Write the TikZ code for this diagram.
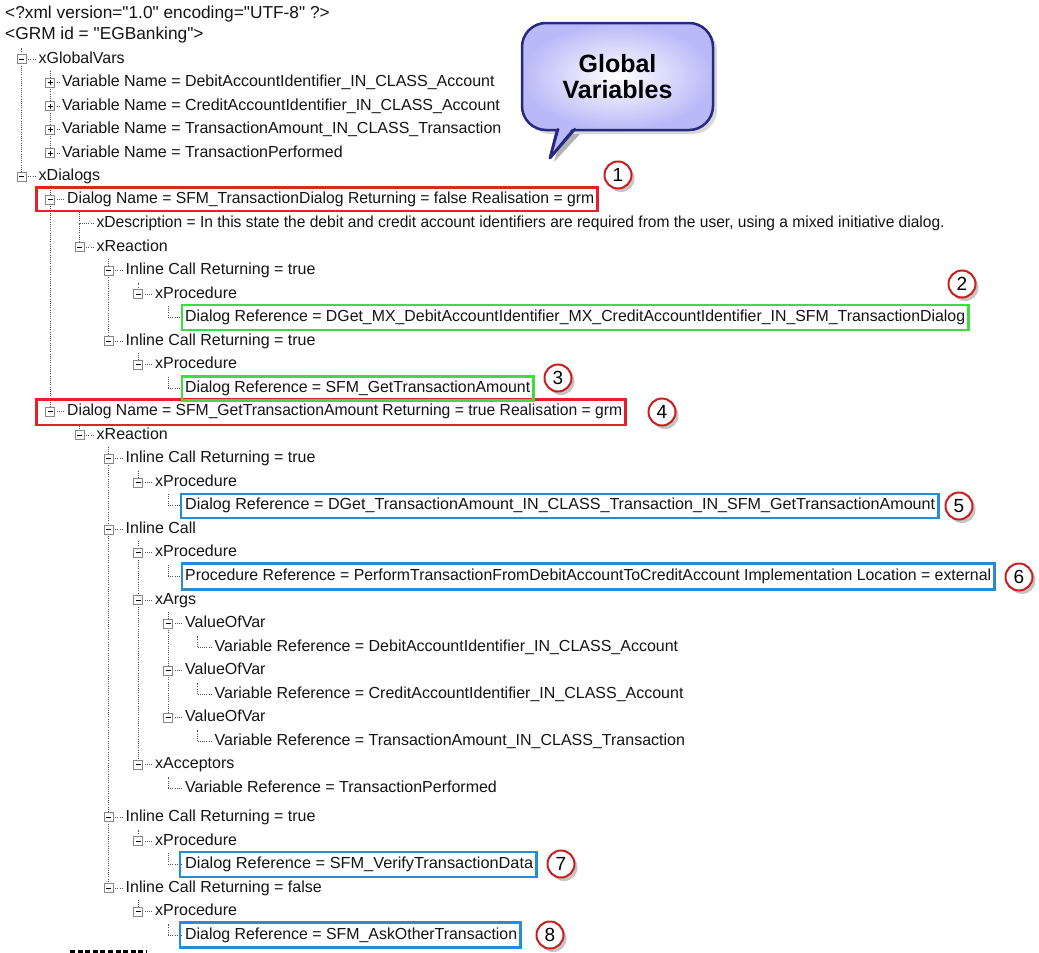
\documentclass[tikz,border=0pt]{standalone}
\usepackage{fontspec}
\setmainfont{Liberation Sans}
\usepackage{graphicx}
\usepackage{xfp}
\usetikzlibrary{shadows,calc}
\pgfdeclarelayer{bg}
\pgfdeclarelayer{paper}
\pgfsetlayers{paper,bg,main}
\definecolor{hlred}{RGB}{228,32,40}
\definecolor{hlgreen}{RGB}{60,222,60}
\definecolor{hlblue}{RGB}{40,140,210}
\definecolor{cred}{RGB}{205,30,30}
\definecolor{navy}{RGB}{40,40,130}
\definecolor{lav}{RGB}{185,185,248}
\definecolor{treec}{RGB}{80,80,80}
\definecolor{boxgray}{RGB}{135,135,135}
\definecolor{txtc}{RGB}{20,20,20}
\newcommand\dq{\XeTeXglyph\XeTeXcharglyph"22\relax}
\newsavebox\fitbox
\newcommand\fitw[2]{\sbox\fitbox{#2}\scalebox{\fpeval{#1/(\the\wd\fitbox)}}[1]{\usebox\fitbox}}
\newcommand\mrow[4]{\node[txt] (#1) at (#2+17,#3) {#4}; \node[mbox] (#1b) at (#2,#3) {};}
\newcommand\prow[4]{\node[txt] (#1) at (#2+12,#3) {#4}; \node[pbox] (#1b) at (#2,#3) {};}
\newcommand\lrow[4]{\node[txt] (#1) at (#2+17,#3) {#4}; \coordinate (#1b) at (#2,#3);}
\tikzset{
  txt/.style={anchor=west, inner sep=0pt, text height=11.5pt, text depth=3.5pt, font=\fontsize{16}{18}\selectfont, text=txtc},
  hdr/.style={txt, font=\fontsize{17.3}{19}\selectfont},
  mbox/.style={draw=boxgray, fill=white, minimum size=9pt, inner sep=0pt, line width=0.8pt,
    path picture={\draw[black, line width=0.9pt] ([xshift=-2.5pt]path picture bounding box.center) -- ([xshift=2.5pt]path picture bounding box.center);}},
  pbox/.style={mbox, path picture={\draw[black, line width=0.9pt] ([xshift=-2.5pt]path picture bounding box.center) -- ([xshift=2.5pt]path picture bounding box.center) ([yshift=-2.5pt]path picture bounding box.center) -- ([yshift=2.5pt]path picture bounding box.center);}},
  tree/.style={draw=treec, line width=0.9pt, dash pattern=on 1pt off 1.2pt},
  hl/.style={line width=2.4pt},
  num/.style={circle, draw=cred, line width=2pt, fill=white, minimum size=27pt, inner sep=0pt,
    font=\fontsize{19}{19}\selectfont, drop shadow={shadow xshift=3pt, shadow yshift=-3.5pt, opacity=0.45}},
  callout/.style={rectangle, rounded corners=24pt, minimum width=191pt, minimum height=107pt,
    draw=navy, line width=2.5pt, inner color=white, outer color=lav, align=center,
    font=\fontsize{25}{26}\selectfont\bfseries,
    drop shadow={shadow xshift=4pt, shadow yshift=-4pt, opacity=0.3}},
}
\begin{document}
\begin{tikzpicture}[x=1pt,y=-1pt]
\begin{pgfonlayer}{paper}
\fill[white] (0,0) rectangle (1039,953);
\end{pgfonlayer}
\useasboundingbox (0,0) rectangle (1039,953);
% header
\node[hdr] (xml) at (5,14) {<?xml version=\dq1.0\dq\ encoding=\dq UTF-8\dq\ ?>};
\node[hdr] (grm) at (5,35) {<GRM id = \dq EGBanking\dq>};
% tree rows
\mrow{gv}{21.5}{59}{xGlobalVars}
\prow{va}{50}{82.5}{Variable Name = DebitAccountIdentifier\_IN\_CLASS\_Account}
\prow{vb}{50}{106}{Variable Name = CreditAccountIdentifier\_IN\_CLASS\_Account}
\prow{vc}{50}{129.6}{Variable Name = TransactionAmount\_IN\_CLASS\_Transaction}
\prow{vd}{50}{153.1}{Variable Name = TransactionPerformed}
\mrow{dl}{21.5}{176.6}{xDialogs}
\mrow{dna}{50}{199.5}{\fitw{527}{Dialog Name = SFM\_TransactionDialog Returning = false Realisation = grm}}
\lrow{desc}{79.5}{223.6}{\fitw{848}{xDescription = In this state the debit and credit account identifiers are required from the user, using a mixed initiative dialog.}}
\mrow{xra}{79.5}{247.2}{xReaction}
\mrow{ica}{108.5}{270.7}{Inline Call Returning = true}
\mrow{pa}{138}{294.2}{xProcedure}
\lrow{dra}{168}{317.7}{\fitw{780}{Dialog Reference = DGet\_MX\_DebitAccountIdentifier\_MX\_CreditAccountIdentifier\_IN\_SFM\_TransactionDialog}}
\mrow{icb}{108.5}{341.2}{Inline Call Returning = true}
\mrow{pb}{138}{364.8}{xProcedure}
\lrow{drb}{168}{388.3}{\fitw{345}{Dialog Reference = SFM\_GetTransactionAmount}}
\mrow{dnb}{50}{411.8}{\fitw{555}{Dialog Name = SFM\_GetTransactionAmount Returning = true Realisation = grm}}
\mrow{xrb}{79.5}{435.3}{xReaction}
\mrow{icc}{108.5}{458.8}{Inline Call Returning = true}
\mrow{pc}{138}{482.4}{xProcedure}
\lrow{drc}{168}{505.9}{\fitw{750}{Dialog Reference = DGet\_TransactionAmount\_IN\_CLASS\_Transaction\_IN\_SFM\_GetTransactionAmount}}
\mrow{icd}{108.5}{529.4}{Inline Call}
\mrow{pd}{138}{552.9}{xProcedure}
\lrow{prd}{168}{576.4}{\fitw{806}{Procedure Reference = PerformTransactionFromDebitAccountToCreditAccount Implementation Location = external}}
\mrow{xa}{138}{600}{xArgs}
\mrow{ova}{168}{623.5}{ValueOfVar}
\lrow{vra}{197.5}{647}{Variable Reference = DebitAccountIdentifier\_IN\_CLASS\_Account}
\mrow{ovb}{168}{670.5}{ValueOfVar}
\lrow{vrb}{197.5}{694}{Variable Reference = CreditAccountIdentifier\_IN\_CLASS\_Account}
\mrow{ovc}{168}{717.6}{ValueOfVar}
\lrow{vrc}{197.5}{741.1}{Variable Reference = TransactionAmount\_IN\_CLASS\_Transaction}
\mrow{xac}{138}{764.6}{xAcceptors}
\lrow{vrd}{168}{788.1}{Variable Reference = TransactionPerformed}
\mrow{ice}{108.5}{817}{Inline Call Returning = true}
\mrow{pe}{138}{841}{xProcedure}
\lrow{dre}{168}{864.5}{\fitw{348}{Dialog Reference = SFM\_VerifyTransactionData}}
\mrow{icf}{108.5}{888}{Inline Call Returning = false}
\mrow{pf}{138}{911.5}{xProcedure}
\lrow{drf}{168}{935}{\fitw{332}{Dialog Reference = SFM\_AskOtherTransaction}}
% tree lines
\begin{pgfonlayer}{bg}
\foreach \n in {gv,va,vb,vc,vd,dl,dna,desc,xra,ica,pa,dra,icb,pb,drb,dnb,xrb,icc,pc,drc,icd,pd,prd,xa,ova,vra,ovb,vrb,ovc,vrc,xac,vrd,ice,pe,dre,icf,pf,drf}
  \draw[tree] (\n b.center) -- ([xshift=-2pt]\n.west);
\foreach \n in {gv,va,dna,desc,ica,pa,dra,pb,drb,xrb,icc,pc,drc,pd,prd,ova,vra,vrb,vrc,vrd,pe,dre,pf,drf}
  \draw[tree] (\n b.center) -- ++(0,-11.5);
\foreach \a/\b in {gv/dl,va/vb,vb/vc,vc/vd,dna/dnb,desc/xra,ica/icb,icc/icd,icd/ice,ice/icf,pd/xa,xa/xac,ova/ovb,ovb/ovc}
  \draw[tree] (\a b.center) -- (\b b.center);
\end{pgfonlayer}
% highlight boxes
\draw[hl, hlred] ([xshift=-8.5pt,yshift=12pt]dnab.west) rectangle ([xshift=3pt,yshift=-11.5pt]dna.east);
\draw[hl, hlred] ([xshift=-8.5pt,yshift=12.5pt]dnbb.west) rectangle ([xshift=3pt,yshift=-13pt]dnb.east);
\draw[hl, hlgreen] ([xshift=-3pt,yshift=12.5pt]dra.west) rectangle ([xshift=3pt,yshift=-12.5pt]dra.east);
\draw[hl, hlgreen] ([xshift=-3pt,yshift=12pt]drb.west) rectangle ([xshift=3pt,yshift=-12pt]drb.east);
\draw[hl, hlblue] ([xshift=-4pt,yshift=12pt]drc.west) rectangle ([xshift=3pt,yshift=-12pt]drc.east);
\draw[hl, hlblue] ([xshift=-3pt,yshift=13pt]prd.west) rectangle ([xshift=3pt,yshift=-13pt]prd.east);
\draw[hl, hlblue] ([xshift=-5pt,yshift=12.5pt]dre.west) rectangle ([xshift=3pt,yshift=-12.5pt]dre.east);
\draw[hl, hlblue] ([xshift=-5pt,yshift=12.5pt]drf.west) rectangle ([xshift=3pt,yshift=-12.5pt]drf.east);
% numbered circles
\node[num] (n1) at (618,175) {1};
\node[num] (n2) at (962,284) {2};
\node[num] (n3) at (558,378) {3};
\node[num] (n4) at (662,412) {4};
\node[num] (n5) at (959,506) {5};
\node[num] (n6) at (1019,577) {6};
\node[num] (n7) at (561,864) {7};
\node[num] (n8) at (550,935) {8};
% callout
\fill[black, opacity=0.3] (562,134) -- (554,162) -- (580,134) -- cycle;
\filldraw[fill=lav, draw=navy, line width=2.5pt, line join=round] (558,126) -- (550,158) -- (576,126) -- cycle;
\node[callout] (gvc) at (617.5,76.5) {Global\\Variables};
\fill[lav] (559.2,127) -- (551.5,152) -- (573.5,127) -- cycle;
\draw[navy, line width=2.5pt, line join=round] (558.3,128.5) -- (550,158) -- (575.5,128.5);
% cut-off row at the bottom
\coordinate (cuta) at (70,951);
\coordinate (cutb) at (147,951);
\draw[line width=3pt, dash pattern=on 5pt off 2.6pt] (cuta) -- (cutb);
\end{tikzpicture}
\end{document}
